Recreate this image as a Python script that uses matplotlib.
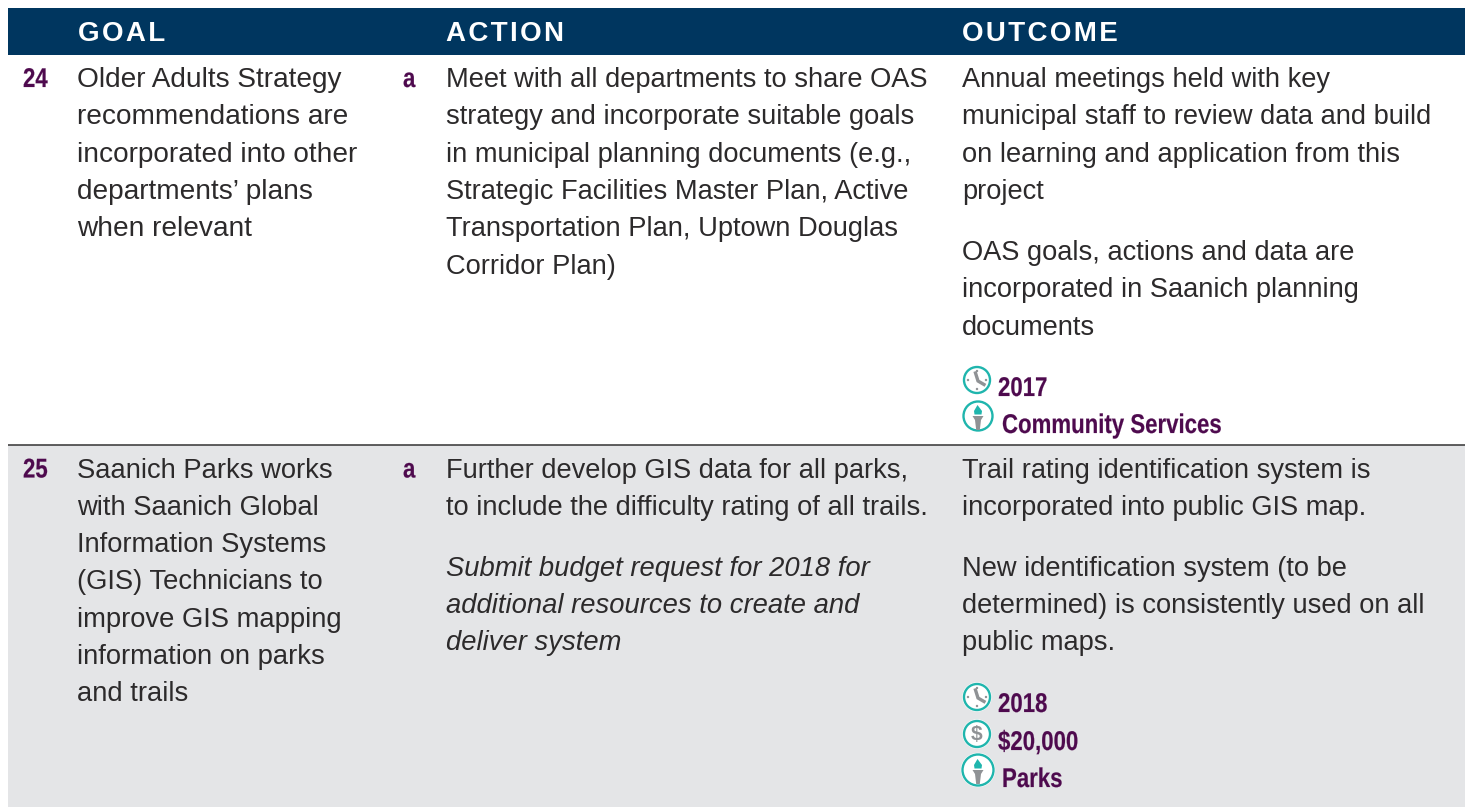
import matplotlib
matplotlib.use("Agg")
import matplotlib.pyplot as plt
from matplotlib.patches import Circle, Polygon, Rectangle
from matplotlib.patheffects import AbstractPathEffect
from matplotlib.transforms import Affine2D

# table content
headers = ["GOAL", "ACTION", "OUTCOME"]
goal_ids = ["24", "25"]
action_ids = ["a", "a"]

goal_24 = ["Older Adults Strategy", "recommendations are", "incorporated into other",
           "departments\u2019 plans", "when relevant"]
action_24 = ["Meet with all departments to share OAS", "strategy and incorporate suitable goals",
             "in municipal planning documents (e.g.,", "Strategic Facilities Master Plan, Active",
             "Transportation Plan, Uptown Douglas", "Corridor Plan)"]
outcome_24a = ["Annual meetings held with key", "municipal staff to review data and build",
               "on learning and application from this", "project"]
outcome_24b = ["OAS goals, actions and data are", "incorporated in Saanich planning", "documents"]

goal_25 = ["Saanich Parks works", "with Saanich Global", "Information Systems", "(GIS) Technicians to",
           "improve GIS mapping", "information on parks", "and trails"]
action_25a = ["Further develop GIS data for all parks,", "to include the difficulty rating of all trails."]
action_25b = ["Submit budget request for 2018 for", "additional resources to create and", "deliver system"]
outcome_25a = ["Trail rating identification system is", "incorporated into public GIS map."]
outcome_25b = ["New identification system (to be", "determined) is consistently used on all", "public maps."]

tags_24 = ["2017", "Community Services"]
tags_25 = ["2018", "$20,000", "Parks"]

NAVY = "#00365f"
PURPLE = "#4e0a4e"
BODY = "#2c2a2b"
BAND = "#e4e5e7"
TEAL = "#1fb5ad"
GREY = "#8f9295"
SANS = "Liberation Sans"


# no narrow face installed, so squeeze the bold glyphs sideways
class Squeeze(AbstractPathEffect):
    def __init__(self, f):
        self.f = f

    def draw_path(self, renderer, gc, tpath, affine, rgbFace=None):
        gc.set_linewidth(0.12)
        gc.set_foreground(rgbFace)
        renderer.draw_path(gc, tpath, Affine2D().scale(self.f, 1) + affine, rgbFace)


fig = plt.figure(figsize=(14.68, 8.07), dpi=100)
ax = fig.add_axes([0, 0, 1, 1])
ax.set_xlim(0, 1468)
ax.set_ylim(807, 0)
ax.axis("off")

ax.add_patch(Rectangle((8, 8), 1457, 46.5, fc=NAVY, ec="none"))
ax.add_patch(Rectangle((8, 445), 1457, 362, fc=BAND, ec="none"))
ax.plot([8, 1465], [445, 445], color="#333333", lw=1.1, solid_capstyle="butt")


def para(x, y, lines, style="normal", size=19.65):
    for i, line in enumerate(lines):
        ax.text(x, y + i * 37.3, line, family=SANS, fontsize=size, color=BODY, style=style, va="baseline")


def narrow(x, y, s):
    t = ax.text(x, y, s, family=SANS, weight="bold", fontsize=19.5, color=PURPLE, va="baseline")
    t.set_path_effects([Squeeze(0.82)])


def ring(x, y, r):
    ax.add_patch(Circle((x, y), r + 1.2, fc="white", ec="none"))
    ax.add_patch(Circle((x, y), r - 0.5, fc="white", ec=TEAL, lw=1.7))


def clock(x, y, r=13.5):
    ring(x, y, r)
    for dx, dy in [(0, -9), (0, 9), (-9, 0), (9, 0)]:
        ax.add_patch(Circle((x + dx, y + dy), 1.2, fc=GREY, ec="none"))
    ax.plot([x - 1.5, x + 1, x + 7], [y - 7, y + 1, y + 4.5], color=GREY, lw=2.4, solid_joinstyle="miter")


def dollar(x, y, r=13.5):
    ring(x, y, r)
    ax.text(x, y + 0.5, "$", family=SANS, weight="bold", fontsize=15, color=GREY, ha="center", va="center")


def torch(x, y, r=15):
    ring(x, y, r)
    ax.add_patch(Polygon([(x - 0.5, y - 11), (x + 4, y - 5), (x + 3.5, y - 1.5), (x - 3.5, y - 1.5),
                          (x - 4, y - 5)], fc=TEAL, ec="none"))
    ax.add_patch(Polygon([(x - 5.5, y), (x + 5.5, y), (x + 3, y + 4), (x + 1.8, y + 14), (x - 1.8, y + 14),
                          (x - 3, y + 4)], fc=GREY, ec="none"))


for x, h in zip([78, 446, 962], headers):
    ax.text(x, 41, "\u200a".join(h), family=SANS, weight="bold", fontsize=20, color="white", va="baseline")

narrow(23, 87, goal_ids[0])
narrow(23, 477.5, goal_ids[1])
narrow(403, 87, action_ids[0])
narrow(403, 477.5, action_ids[1])

para(77, 87, goal_24, size=20.15)
para(446, 87, action_24)
para(962, 87, outcome_24a)
para(962, 260, outcome_24b)

para(77, 477.5, goal_25, size=19.75)
para(446, 477.5, action_25a)
para(446, 575.5, action_25b, style="italic", size=19.75)
para(962, 477.5, outcome_25a)
para(962, 575.5, outcome_25b)

clock(977, 380)
torch(978, 416)
narrow(998, 396, tags_24[0])
narrow(1002, 433, tags_24[1])

clock(977, 697)
dollar(977, 734)
torch(978, 770, 16)
narrow(998, 712, tags_25[0])
narrow(998, 750, tags_25[1])
narrow(1002, 787, tags_25[2])

fig.savefig("out.png", dpi=100)
